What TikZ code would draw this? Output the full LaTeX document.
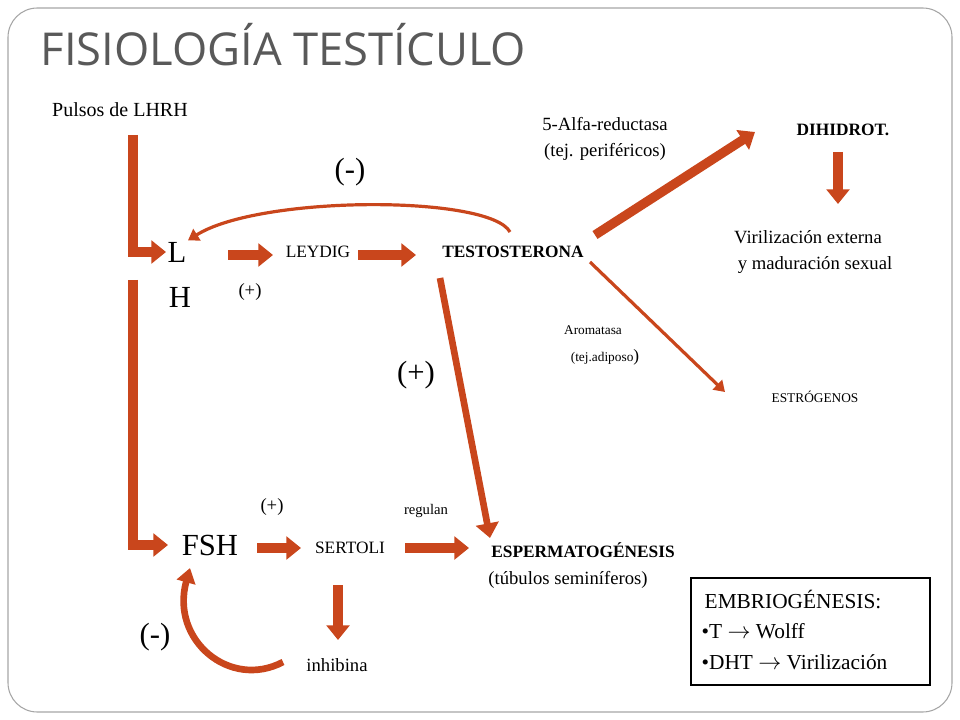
\documentclass[tikz,border=0pt]{standalone}
\usepackage{fontspec}
\setmainfont{Liberation Serif}
\newfontfamily\titlefont{Open Sans}
\usetikzlibrary{arrows.meta}
\definecolor{flecha}{HTML}{C9461C}
\tikzset{
  blk/.style={draw=flecha, line width=7pt, -{Triangle[length=11pt,width=17pt]}},
  thin/.style={draw=flecha, line width=2.4pt, -{Triangle[length=8pt,width=10pt]}},
  lbl/.style={font=\fontsize{13}{15}\selectfont, inner sep=1pt},
  big/.style={font=\fontsize{23}{25}\selectfont, inner sep=1pt},
}
\begin{document}
\begin{tikzpicture}[x=0.75pt,y=-0.75pt]
  \useasboundingbox (0,0) rectangle (960,720);
  \draw[gray!70, line width=0.8pt, rounded corners=22pt] (8,8) rectangle (952,712);
  \node[anchor=west, text=gray!70!black, font=\titlefont\fontsize{34}{40}\selectfont] (title) at (36,45) {FISIOLOGÍA TESTÍCULO};
  % hipofisis
  \node[font=\fontsize{15}{17}\selectfont] (lhrh) at (120,110) {Pulsos de LHRH};
  \node[big] (L) at (177,252) {L};
  \node[big] (H) at (180,297) {H};
  \node[big] (fsh) at (210,545) {FSH};
  \draw[blk] (133,135) -- (133,252) -- (166,252);
  \draw[blk] (133,280) -- (133,545) -- (168,545);
  % leydig
  \node[lbl] (leydig) at (318,252) {LEYDIG};
  \node[lbl, font=\bfseries\fontsize{13}{15}\selectfont] (testo) at (513,252) {TESTOSTERONA};
  \node[lbl, font=\fontsize{14}{16}\selectfont] (p1) at (250,292) {(+)};
  \node[big] (m1) at (350,172) {(-)};
  \draw[blk] (228,255) -- (273,255);
  \draw[blk] (358,255) -- (416,255);
  \draw[thin] (510,232) .. controls (490,195) and (260,195) .. (L.north east);
  % dht
  \node[lbl, font=\bfseries\fontsize{13}{15}\selectfont] (dht) at (843,130) {DIHIDROT.};
  \node[lbl, font=\fontsize{14}{16}\selectfont, align=center] (alfa) at (605,139) {5-Alfa-reductasa\\[3pt](tej. periféricos)};
  \node[lbl, font=\fontsize{14}{16}\selectfont] (viril1) at (808,237) {Virilización externa};
  \node[lbl, font=\fontsize{14}{16}\selectfont] (viril2) at (815,265) {y maduración sexual};
  \draw[blk] (595,235) -- (755,132);
  \draw[blk] (838,152) -- (838,204);
  % estrogenos
  \node[lbl, font=\fontsize{10}{12}\selectfont] (aroma) at (593,330) {Aromatasa};
  \node[lbl, font=\fontsize{10}{12}\selectfont] (adip) at (605,357) {(tej.adiposo\fontsize{13}{15}\selectfont)};
  \node[lbl, font=\fontsize{10}{12}\selectfont] (estro) at (815,397) {ESTRÓGENOS};
  \draw[thin] (590,262) -- (725,392);
  % sertoli
  \node[big] (p2) at (416,375) {(+)};
  \node[lbl, font=\fontsize{14}{16}\selectfont] (p3) at (272,507) {(+)};
  \node[lbl, font=\fontsize{11}{13}\selectfont] (reg) at (426,511) {regulan};
  \node[lbl] (sertoli) at (350,548) {SERTOLI};
  \node[lbl, font=\bfseries\fontsize{13}{15}\selectfont] (esperma) at (583,550) {ESPERMATOGÉNESIS};
  \node[lbl, font=\fontsize{14}{16}\selectfont] (tubulos) at (568,580) {(túbulos seminíferos)};
  \node[lbl, font=\fontsize{14}{16}\selectfont] (inhib) at (337,665) {inhibina};
  \node[big] (m2) at (155,637) {(-)};
  \draw[blk, line width=5pt] (440,278) -- (490,538);
  \draw[blk] (257,548) -- (301,548);
  \draw[blk] (405,548) -- (469,548);
  \draw[blk] (338,585) -- (338,640);
  \draw[flecha, line width=5pt, -{Triangle[length=11pt,width=14pt]}] (283,662) .. controls (230,690) and (170,640) .. (190,568);
  % embriogenesis
  \draw[line width=0.8pt] (691,578) rectangle (930,685);
  \node[anchor=west, font=\fontsize{16}{18}\selectfont] (embrio) at (700,599) {EMBRIOGÉNESIS:};
  \node[anchor=west, font=\fontsize{16}{18}\selectfont] (tw) at (697,631) {•T $\rightarrow$ Wolff};
  \node[anchor=west, font=\fontsize{16}{18}\selectfont] (dv) at (697,662) {•DHT $\rightarrow$ Virilización};
\end{tikzpicture}
\end{document}
